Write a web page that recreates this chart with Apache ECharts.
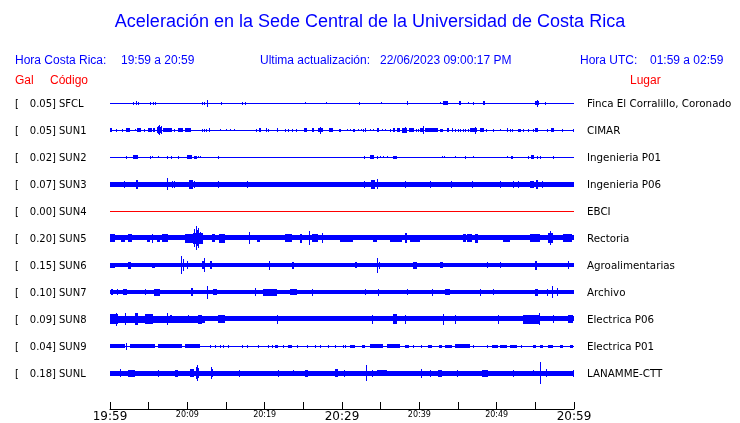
<!DOCTYPE html>
<html><head><meta charset="utf-8">
<script src="https://cdn.jsdelivr.net/npm/echarts@6/dist/echarts.min.js"></script>
<style>html,body{margin:0;padding:0;background:#fff}#c{width:740px;height:423px}</style>
</head><body><div id="c"></div>
<script>
// ---- data ----
const codes = ['SFCL','SUN1','SUN2','SUN3','SUN4','SUN5','SUN6','SUN7','SUN8','SUN9','SUNL'];
const gal = ['0.05','0.05','0.02','0.07','0.00','0.20','0.15','0.10','0.09','0.04','0.18'];
const places = ['Finca El Corralillo, Coronado','CIMAR','Ingenieria P01','Ingenieria P06','EBCI','Rectoria','Agroalimentarias','Archivo','Electrica P06','Electrica P01','LANAMME-CTT'];
const tickLabels = ['19:59','20:09','20:19','20:29','20:39','20:49','20:59'];
// background noise half-amplitude of each trace (relative units)
const baseAmp = [0.5,0.5,0.5,2.5,0.5,2.7,2,2,2.7,0.5,2.5];
// events: [minute, amp] or [startMinute, endMinute, amp], minutes after 19:59
const evSFCL = [[3.02,1.5],[3.36,2],[3.66,1.5],[5.22,1.5],[5.60,1.5],[5.82,1.5],[11.94,1.5],[12.20,1.5],[12.59,3.5],[14.40,1.5],[17.11,1.5],[17.46,1.5],[25.22,1],[27.93,1],[32.24,1.5],[35.00,1],[38.36,38.53,2],[42.67,1],[43.10,43.66,2],[45.17,45.34,2],[46.29,1],[46.98,1.5],[48.28,48.45,2],[54.96,55.43,2],[55.17,3.5],[56.21,1.5]];
const evSUN1 = [[0,0.22,2],[0.78,1.5],[1.51,1.5],[2.03,2.54,2],[3.23,1],[3.45,4.01,2],[4.44,1.5],[4.96,5.39,2],[5.60,5.82,2],[6.03,6.68,3],[6.16,4],[6.38,5],[6.59,4],[6.90,7.97,2],[8.28,1.5],[8.84,9.48,2],[9.70,10.43,2],[11.85,1.5],[12.11,1.5],[12.37,1.5],[12.84,2],[14.27,1],[14.96,1],[15.56,1],[16.08,1],[18.84,1.5],[19.31,19.53,2],[20.17,2],[20.47,1.5],[21.55,2],[22.63,1.5],[23.06,1.5],[23.49,1.5],[24.05,1.5],[25.13,25.43,2],[26.16,26.42,2],[26.94,27.59,2],[27.16,3.5],[28.36,28.88,2],[29.66,1.5],
  [29.74,1.5],[30.60,1],[31.03,1],[31.38,31.68,1.5],[32.11,1],[32.41,1],[32.67,1.5],[32.97,2],[33.62,1],[34.05,1],[34.48,34.74,2],[35.13,1],[35.56,1],[36.21,1.5],[36.55,36.85,2],[37.16,37.50,2],[37.72,38.36,2.5],[38.15,3],[38.71,39.31,2],[39.57,1.5],[39.87,1.5],[40.09,40.43,2],[40.52,4],[40.73,42.46,2],[42.67,43.10,1.5],[43.53,43.88,2],[44.18,44.40,2],[44.61,1.5],[45.04,1.5],[45.26,1.5],[45.60,1.5],[45.91,1.5],[46.25,1.5],[46.55,47.41,2],[47.16,3.5],[47.84,48.36,2],[48.58,48.79,1.5],[49.57,1.5],[50.43,1],[51.29,2],[51.72,1.5],[52.03,1.5],[52.80,53.10,1.5],[53.45,1.5],[54.09,1.5],[54.66,1.5],[54.96,55.39,2],[56.47,1.5],[56.98,57.41,2],[58.41,1.5],[59.91,1.5]];
const evSUN2 = [[2.03,1.5],[3.02,3.58,2],[5.22,1.5],[5.47,1],[6.25,1],[7.41,1.5],[7.89,1.5],[8.75,1.5],[9.91,10.56,2],[10.91,11.21,1.5],[11.42,1],[11.68,1],[14.01,1.5],[32.84,1.5],[33.62,34.14,2],[34.48,1.5],[34.91,1],[35.34,1],[35.78,1],[36.64,37.16,1.5],[42.89,1],[43.19,1],[44.61,1],[45.91,1.5],[47.00,1],[51.38,1],[51.85,52.07,1.5],[54.09,1.5],[54.40,54.83,2],[55.17,1.5],[55.60,1.5],[57.33,1.5]];
const evSUN3 = [[1.85,3.5],[3.32,3.66,4.5],[7.41,6],[8.06,3.5],[8.32,3.5],[10.26,10.78,4.5],[10.91,3.5],[14.01,3.5],[17.67,3.5],[32.84,3.5],[33.71,34.27,4.5],[34.48,5],[38.15,3.5],[41.38,3.5],[44.09,3.5],[46.77,3.5],[50.43,3.5],[52.07,3.5],[52.80,3.5],[54.31,54.83,3.5],[55.09,55.39,4.5],[55.82,3.5]];
const evSUN4 = [];
const evSUN5 = [[0,0.65,4],[1.42,1.94,3.5],[2.37,2.80,4],[4.74,5.17,3.5],[5.39,4.5],[6.03,6.47,3.5],[6.68,7.54,4],[9.70,10.78,4.5],[10.78,12.07,5.5],[10.91,9],[11.08,12],[11.25,8],[11.42,10],[11.64,6],[13.15,13.58,4],[14.09,14.87,4.5],[17.97,6],[18.97,19.40,3.5],[22.63,23.49,4],[24.57,24.78,4.5],[25.78,7],[26.08,26.94,4],[27.46,5],
  [29.74,31.47,3.5],[34.05,34.48,3.5],[36.21,37.72,3.5],[38.15,38.36,5],[38.79,40.09,3.5],[45.60,46.03,4],[46.12,46.77,4],[47.20,47.60,4.5],[50.86,51.72,3.5],[54.31,55.60,4],[56.68,57.33,5],[56.90,7],[58.62,59.70,4]];
const evSUN6 = [[0,0.65,2.5],[2.37,2.72,3.5],[5.39,5.82,2.5],[9.18,9],[9.40,6],[9.91,4],[11.85,12.28,4],[12.16,7],[12.93,13.23,4],[20.60,4.5],[23.58,23.84,3.5],[31.68,31.98,3],[34.57,7.5],[34.83,3.5],[39.22,39.74,3.5],[42.67,43.10,3],[48.71,3],[50.43,3],[54.96,55.26,4.5],[59.27,4]];
const evSUN7 = [[0.13,0.43,3],[0.86,3],[1.72,2.16,3],[4.53,3],[5.73,6.47,3.5],[10.47,10.78,4],[12.59,6.5],[13.36,13.79,3],[18.75,4],[19.83,21.55,3.5],[23.28,24.14,3],[26.08,3.5],[32.97,3],[34.70,3.5],[38.36,3],[41.59,3.5],[43.32,43.97,3],[47.84,3.5],[49.57,3],[54.96,55.39,3.5],[56.47,3.5],[57.20,6],[57.84,4]];
const evSUN8 = [[0,12.3,3.5],[0,1.08,5],[0.78,6.5],[1.94,6],[3.23,3.66,6],[4.53,5.60,5],[7.33,6],[7.76,7.97,4],[10.13,4],[11.42,11.85,4.5],[14.01,14.87,4],[21.55,4.5],[33.84,34.05,4.5],[36.64,37.07,5],[38.15,4.5],[43.10,5.5],[44.61,4.5],[50.22,4.5],[53.45,55.60,4.5],[55.47,6],[57.33,4],[59.27,59.91,4]];
const evSUN9 = [[0,1.94,2],[2.03,3.5],[2.59,5.82,2],[6.25,9.27,2],[9.70,11.64,2],[12.93,1.5],[13.58,1.5],[14.22,1.5],[14.66,1.5],[15.30,1.5],[17.03,1.5],[17.67,1.5],[19.18,1.5],[20.47,1.5],[20.91,1.5],[21.34,21.77,1.5],[22.41,1.5],[23.06,23.49,1.5],[24.14,1.5],[25.43,25.65,1.5],[26.51,1.5],[27.16,1.5],[28.23,1.5],[29.09,1.5],[30.17,1.5],
  [30.39,1.5],[31.03,31.68,1.5],[32.54,32.97,1.5],[33.62,35.30,2],[35.80,37.50,2],[38.10,38.60,1.5],[39.20,1.5],[40.26,1.5],[41.16,41.59,1.5],[42.50,42.90,1.5],[43.30,44.20,1.5],[44.60,46.50,2],[46.98,1.5],[48.71,1.5],[49.40,50.20,1.5],[50.40,51.30,1.5],[51.70,52.60,1.5],[53.20,1.5],[54.70,55.10,1.5],[55.60,56.00,1.5],[56.70,57.30,1.5],[58.20,58.60,1.5],[59.50,59.90,1.5]];
const evSUNL = [[1.29,4],[2.37,3.23,3.5],[6.25,3.5],[8.41,8.84,3.5],[10.34,10.91,4],[11.08,6],[11.29,8],[11.42,5],[13.06,6],[13.15,13.36,4],[16.72,3.5],[21.68,3.5],[23.71,3],[25.22,25.65,3.5],[29.09,29.53,4],[30.30,3.5],[33.15,8],[33.84,3.5],[34.48,35.78,3],[40.26,4.5],[41.38,3.5],[42.46,42.89,3.5],[44.83,3.5],[48.06,48.92,3.5],[52.16,3.5],[54.74,3],[55.65,11],[56.38,4],[59.91,3.5]];

// ---- build ----
const events = [evSFCL,evSUN1,evSUN2,evSUN3,evSUN4,evSUN5,evSUN6,evSUN7,evSUN8,evSUN9,evSUNL];
const AMP = 1/27; // relative amplitude unit -> row units
const items = [];
events.forEach((ev, r) => {
  items.push([0, 60, baseAmp[r], r]);
  ev.forEach(e => {
    const t0 = e[0], t1 = e.length === 3 ? e[1] : e[0], a = e[e.length - 1];
    items.push([t0, t1, a, r]);
  });
});

const BLUE = '#0000ff', RED = '#ff0000';
const HF = '"Liberation Sans", Arial, sans-serif';
const LF = '"DejaVu Sans", sans-serif';
const graphic = [
  {type:'text', x:370, y:22, style:{text:'Aceleración en la Sede Central de la Universidad de Costa Rica', fill:BLUE, font:'18px ' + HF, align:'center', verticalAlign:'middle'}},
  {type:'text', x:15, y:61, style:{text:'Hora Costa Rica:', fill:BLUE, font:'12px ' + HF, verticalAlign:'middle'}},
  {type:'text', x:121, y:61, style:{text:'19:59 a 20:59', fill:BLUE, font:'12px ' + HF, verticalAlign:'middle'}},
  {type:'text', x:260, y:61, style:{text:'Ultima actualización:', fill:BLUE, font:'12px ' + HF, verticalAlign:'middle'}},
  {type:'text', x:380, y:61, style:{text:'22/06/2023 09:00:17 PM', fill:BLUE, font:'12px ' + HF, verticalAlign:'middle'}},
  {type:'text', x:580, y:61, style:{text:'Hora UTC:', fill:BLUE, font:'12px ' + HF, verticalAlign:'middle'}},
  {type:'text', x:650, y:61, style:{text:'01:59 a 02:59', fill:BLUE, font:'12px ' + HF, verticalAlign:'middle'}},
  {type:'text', x:15, y:81, style:{text:'Gal', fill:RED, font:'12px ' + HF, verticalAlign:'middle'}},
  {type:'text', x:50, y:81, style:{text:'Código', fill:RED, font:'12px ' + HF, verticalAlign:'middle'}},
  {type:'text', x:630, y:81, style:{text:'Lugar', fill:RED, font:'12px ' + HF, verticalAlign:'middle'}}
];
codes.forEach((c, i) => {
  const y = 104 + 27 * i;
  graphic.push({type:'text', x:15, y:y, style:{text:'[', fill:'#000', font:'10px ' + LF, verticalAlign:'middle'}});
  graphic.push({type:'text', x:56, y:y, style:{text:gal[i] + ']', fill:'#000', font:'10px ' + LF, align:'right', verticalAlign:'middle'}});
  graphic.push({type:'text', x:59, y:y, style:{text:c, fill:'#000', font:'10px ' + LF, verticalAlign:'middle'}});
  graphic.push({type:'text', x:587, y:y, style:{text:places[i], fill:'#000', font:'10.3px ' + LF, verticalAlign:'middle'}});
});

const chart = echarts.init(document.getElementById('c'), null, {renderer:'canvas'});
chart.setOption({
  animation:false,
  backgroundColor:'#fff',
  grid:{left:110, right:166, top:76, bottom:14},
  xAxis:{type:'value', min:0, max:60, interval:5, position:'bottom',
    axisLine:{show:true, onZero:false, lineStyle:{color:'#000', width:1}},
    axisTick:{show:true, inside:true, length:7, lineStyle:{color:'#000'}},
    splitLine:{show:false},
    axisLabel:{show:true, margin:2, showMinLabel:true, showMaxLabel:true, verticalAlign:'top',
      formatter:function(v){
        if (v % 10 !== 0) return '';
        const k = v / 10;
        return k % 3 === 0 ? '{b|' + tickLabels[k] + '}' : '{s|' + tickLabels[k] + '}';
      },
      rich:{b:{fontSize:12, fontFamily:LF, color:'#000'}, s:{fontSize:8, fontFamily:LF, color:'#000'}}
    }
  },
  yAxis:{type:'value', min:-1, max:11.3333, inverse:true, show:false},
  graphic:graphic,
  series:[{
    type:'custom', data:items, clip:false,
    renderItem:function(params, api){
      const t0 = api.value(0), t1 = api.value(1), a = api.value(2), r = api.value(3);
      const p0 = api.coord([t0, r - a * AMP]);
      const p1 = api.coord([t1, r + a * AMP]);
      let x = Math.round(p0[0]);
      let w = Math.max(Math.round(p1[0]) - x, 1);
      const y = Math.round(Math.min(p0[1], p1[1]));
      const h = Math.max(Math.round(Math.abs(p1[1] - p0[1])), 1);
      return {type:'rect', shape:{x:x, y:y, width:w, height:h}, style:{fill: r === 4 ? RED : BLUE}};
    }
  }]
});
</script></body></html>
